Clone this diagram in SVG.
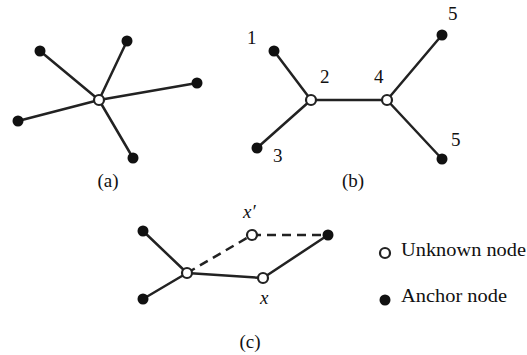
<svg xmlns="http://www.w3.org/2000/svg" width="527" height="355" viewBox="0 0 527 355">
<style>
.e{stroke:#222;stroke-width:2.5;fill:none;stroke-linecap:round}
.d{stroke-dasharray:9 6;stroke-linecap:butt}
.a{fill:#111}
.u{fill:#fff;stroke:#222;stroke-width:2.2}
.t{font-family:"Liberation Serif","Times New Roman",serif;fill:#111}
</style>
<rect width="527" height="355" fill="#fff"/>
<g id="connectors">
<line class="e" x1="99" y1="100" x2="40" y2="51"/>
<line class="e" x1="99" y1="100" x2="127" y2="41"/>
<line class="e" x1="99" y1="100" x2="197" y2="83"/>
<line class="e" x1="99" y1="100" x2="18" y2="121"/>
<line class="e" x1="99" y1="100" x2="133" y2="158"/>
<line class="e" x1="311" y1="100" x2="274" y2="51"/>
<line class="e" x1="311" y1="100" x2="257" y2="148"/>
<line class="e" x1="311" y1="100" x2="387" y2="100"/>
<line class="e" x1="387" y1="100" x2="442" y2="35"/>
<line class="e" x1="387" y1="100" x2="442" y2="159"/>
<line class="e" x1="187" y1="273" x2="143" y2="231"/>
<line class="e" x1="187" y1="273" x2="143" y2="299"/>
<line class="e" x1="187" y1="273" x2="263" y2="278"/>
<line class="e" x1="263" y1="278" x2="328" y2="235"/>
<line class="e d" x1="187" y1="273" x2="252" y2="235"/>
<line class="e d" x1="252" y1="235" x2="328" y2="235"/>
</g>
<g id="a-center"><circle class="u" cx="99" cy="100" r="5"/></g>
<g id="a-n1"><circle class="a" cx="40" cy="51" r="5.5"/></g>
<g id="a-n2"><circle class="a" cx="127" cy="41" r="5.5"/></g>
<g id="a-n3"><circle class="a" cx="197" cy="83" r="5.5"/></g>
<g id="a-n4"><circle class="a" cx="18" cy="121" r="5.5"/></g>
<g id="a-n5"><circle class="a" cx="133" cy="158" r="5.5"/></g>
<text class="t" x="108" y="187" font-size="19" text-anchor="middle">(a)</text>
<g id="b-1"><circle class="a" cx="274" cy="51" r="5.5"/><text class="t" x="247" y="44" font-size="19">1</text></g>
<g id="b-2"><circle class="u" cx="311" cy="100" r="5"/><text class="t" x="320" y="83" font-size="19">2</text></g>
<g id="b-3"><circle class="a" cx="257" cy="148" r="5.5"/><text class="t" x="273" y="162" font-size="19">3</text></g>
<g id="b-4"><circle class="u" cx="387" cy="100" r="5"/><text class="t" x="374" y="83" font-size="19">4</text></g>
<g id="b-5a"><circle class="a" cx="442" cy="35" r="5.5"/><text class="t" x="448" y="20" font-size="19">5</text></g>
<g id="b-5b"><circle class="a" cx="442" cy="159" r="5.5"/><text class="t" x="451" y="146" font-size="19">5</text></g>
<text class="t" x="353" y="187" font-size="19" text-anchor="middle">(b)</text>
<g id="c-a1"><circle class="a" cx="143" cy="231" r="5.5"/></g>
<g id="c-a2"><circle class="a" cx="143" cy="299" r="5.5"/></g>
<g id="c-center"><circle class="u" cx="187" cy="273" r="5"/></g>
<g id="c-xp"><circle class="u" cx="252" cy="235" r="5"/><text class="t" x="243" y="218" font-size="19" font-style="italic">x′</text></g>
<g id="c-a3"><circle class="a" cx="328" cy="235" r="5.5"/></g>
<g id="c-x"><circle class="u" cx="263" cy="278" r="5"/><text class="t" x="260" y="304" font-size="19" font-style="italic">x</text></g>
<text class="t" x="250" y="348" font-size="19" text-anchor="middle">(c)</text>
<g id="legend-unknown"><circle class="u" cx="385" cy="253" r="5"/><text class="t" x="401" y="256" font-size="19" textLength="125" lengthAdjust="spacingAndGlyphs">Unknown node</text></g>
<g id="legend-anchor"><circle class="a" cx="385" cy="300" r="5.5"/><text class="t" x="401" y="302" font-size="19" textLength="106" lengthAdjust="spacingAndGlyphs">Anchor node</text></g>
</svg>
